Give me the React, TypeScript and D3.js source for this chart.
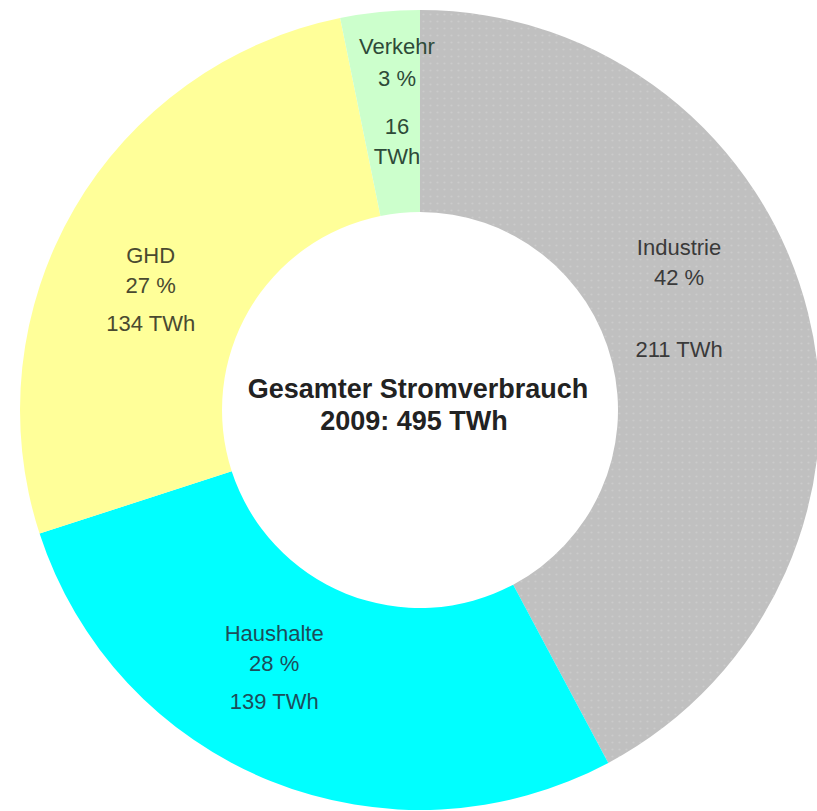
import React, { useEffect, useRef } from 'react';
import * as d3 from 'd3';

// Stromverbrauch 2009 nach Sektoren
const categories = ['Industrie', 'Haushalte', 'GHD', 'Verkehr'];
const twhValues = [211, 139, 134, 16];
const percentLabels = ['42 %', '28 %', '27 %', '3 %'];
const energyLabels = [['211 TWh'], ['139 TWh'], ['134 TWh'], ['16', 'TWh']];
const totalLabel = ['Gesamter Stromverbrauch', '2009: 495 TWh'];

const sliceColors = ['url(#dots)', '#00ffff', '#ffff99', '#ccffcc'];
const textColors = ['#3a3a3a', '#1d4d5a', '#4a4a30', '#2e4a38'];

// label nudges from the slice centroid + line offsets (first line = baseline)
const labelNudge: [number, number][] = [[-31, -82], [-34, -46], [-11, 4], [7, -59]];
const lineOffsets = [[0, 30, 102], [0, 30, 68], [0, 30, 68], [0, 32, 80, 110]];

const App: React.FC = () => {
  const svgRef = useRef<SVGSVGElement>(null);
  const width = 817;
  const height = 811;

  useEffect(() => {
    if (!svgRef.current) return;
    const root = d3.select(svgRef.current);
    root.selectAll('*').remove();

    const cx = 420;
    const cy = 410;
    const outerR = 400;
    const innerR = 198;

    // dotted grey fill for Industrie
    const defs = root.append('defs');
    const pat = defs.append('pattern')
      .attr('id', 'dots')
      .attr('patternUnits', 'userSpaceOnUse')
      .attr('width', 7)
      .attr('height', 7);
    pat.append('rect').attr('width', 7).attr('height', 7).attr('fill', '#c0c0c0');
    pat.append('circle').attr('cx', 3.5).attr('cy', 3.5).attr('r', 1.1).attr('fill', '#cbcbcb');

    const g = root.append('g').attr('transform', `translate(${cx},${cy})`);

    const pie = d3.pie<number>().sort(null).value((d: number) => d);
    const arcs = pie(twhValues);

    const arc = d3.arc<any>().innerRadius(innerR).outerRadius(outerR);
    const labelArc = d3.arc<any>().innerRadius((innerR + outerR) / 2).outerRadius((innerR + outerR) / 2);

    g.selectAll('path.slice')
      .data(arcs)
      .enter()
      .append('path')
      .attr('class', 'slice')
      .attr('d', arc)
      .attr('fill', (_: any, i: number) => sliceColors[i]);

    const font = '"Liberation Sans", Arial, sans-serif';

    arcs.forEach((a: any, i: number) => {
      const [x, y] = labelArc.centroid(a);
      const lx = x + labelNudge[i][0];
      const ly = y + labelNudge[i][1];
      const lines = [categories[i], percentLabels[i], ...energyLabels[i]];
      const text = g.append('text')
        .attr('text-anchor', 'middle')
        .style('font-family', font)
        .style('font-size', '22px')
        .attr('fill', textColors[i]);
      lines.forEach((line, j) => {
        text.append('tspan')
          .attr('x', lx)
          .attr('y', ly + lineOffsets[i][j])
          .text(line);
      });
    });

    // centre title
    const title = g.append('text')
      .attr('text-anchor', 'middle')
      .style('font-family', font)
      .style('font-size', '27px')
      .style('font-weight', 'bold')
      .attr('fill', '#222');
    totalLabel.forEach((line, j) => {
      title.append('tspan')
        .attr('x', j === 0 ? -2 : -6)
        .attr('y', -12 + j * 32)
        .text(line);
    });
  }, []);

  return (
    <div style={{ position: 'absolute', left: 0, top: 0, width, height, background: '#fff' }}>
      <svg ref={svgRef} width={width} height={height} style={{ display: 'block' }} />
    </div>
  );
};

export default App;
